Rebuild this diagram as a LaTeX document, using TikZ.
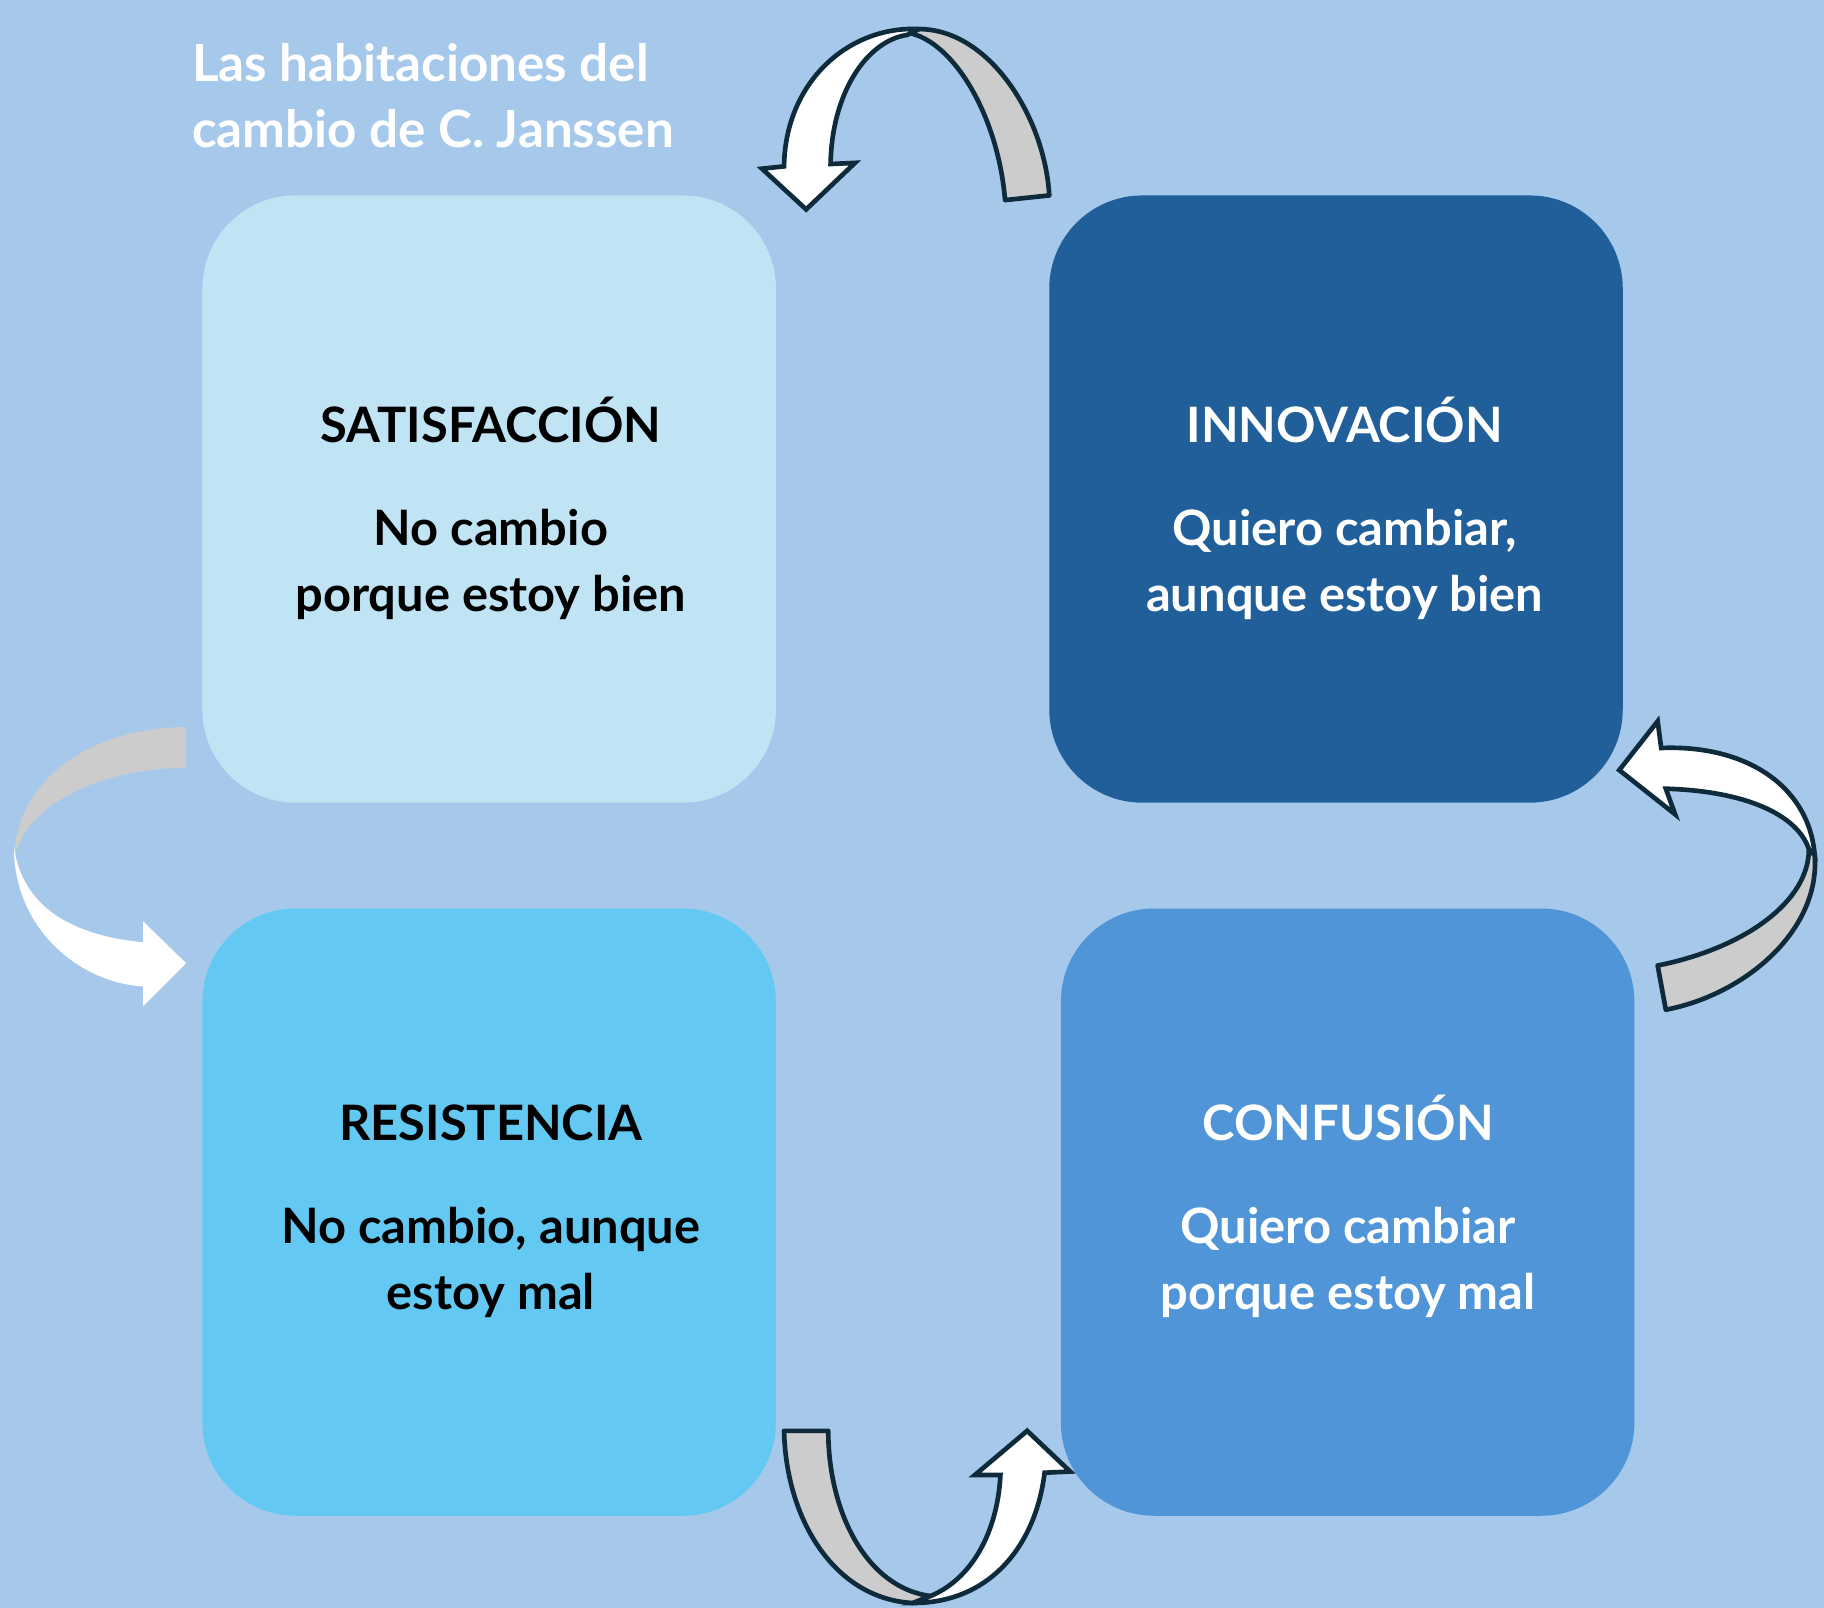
\documentclass[tikz,border=0pt]{standalone}
\usepackage{fontspec}
\setmainfont{Lato}
\definecolor{bg}{HTML}{A6C9EB}
\definecolor{csat}{HTML}{C1E4F5}
\definecolor{cinn}{HTML}{215F9A}
\definecolor{cres}{HTML}{63C9F3}
\definecolor{ccon}{HTML}{4F95D8}
\definecolor{dk}{HTML}{0E2A3B}
\definecolor{gr}{HTML}{CCCCCC}
\begin{document}
\begin{tikzpicture}[x=0.5pt,y=-0.5pt,
  room/.style={rounded corners=40pt,minimum width=246.5pt,minimum height=261pt,inner sep=0pt},
  txt/.style={font=\bfseries\fontsize{21}{28.5}\selectfont,align=center},
  gband/.style={fill=gr,draw=dk,line width=2pt,line join=round},
  wband/.style={fill=white,draw=dk,line width=2pt,line join=miter}]
\fill[bg] (0,0) rectangle (1568,1382);
\useasboundingbox (0,0) rectangle (1568,1382);
\node[room,fill=csat] (sat) at (420.5,429) {};
\node[room,fill=cinn] (inn) at (1148.5,429) {};
\node[room,fill=cres] (res) at (420.5,1042) {};
\node[room,fill=ccon] (con) at (1158.5,1042) {};
\node[txt,anchor=base] (t1) at (422,380) {SATISFACCIÓN};
\node[txt,anchor=base] (t1b) at (422,526) {No cambio\\porque estoy bien};
\node[txt,anchor=base,text=white] (t2) at (1156,380) {INNOVACIÓN};
\node[txt,anchor=base,text=white] (t2b) at (1156,526) {Quiero cambiar,\\aunque estoy bien};
\node[txt,anchor=base] (t3) at (422,980) {RESISTENCIA};
\node[txt,anchor=base] (t3b) at (422,1126) {No cambio, aunque\\estoy mal};
\node[txt,anchor=base,text=white] (t4) at (1159,980) {CONFUSIÓN};
\node[txt,anchor=base,text=white] (t4b) at (1159,1126) {Quiero cambiar\\porque estoy mal};
\node[font=\bfseries\fontsize{22}{28.5}\selectfont,align=left,text=white,anchor=north west] (title) at (158,30) {Las habitaciones del\\cambio de C. Janssen};
% top arrow
\draw[gband] (864,172) .. controls (858,100) and (820,35) .. (780,28) -- (790,25) .. controls (850,25) and (898,100) .. (902,168) -- cycle;
\draw[wband] (780,30) -- (790,25) .. controls (730,22) and (675,70) .. (674,143) -- (655,145) -- (693,180) -- (735,140) -- (714,141) .. controls (715,80) and (745,35) .. (780,30) -- cycle;
% bottom arrow
\draw[gband] (674,1230) -- (712,1230) .. controls (712,1300) and (745,1365) .. (800,1372) -- (785,1378) .. controls (720,1375) and (676,1310) .. (674,1230) -- cycle;
\draw[wband] (800,1372) .. controls (840,1355) and (858,1310) .. (860,1268) -- (838,1268) -- (883,1230) -- (920,1265) -- (898,1266) .. controls (890,1330) and (850,1378) .. (785,1378) -- cycle;
% left arrow
\fill[gr] (160,625) -- (160,660) .. controls (90,660) and (20,690) .. (12,740) .. controls (12,670) and (80,625) .. (160,625) -- cycle;
\fill[white] (12,728) .. controls (12,800) and (70,845) .. (123,848) -- (123,865) -- (160,828) -- (123,792) -- (123,810) .. controls (70,805) and (20,785) .. (12,728) -- cycle;
% right arrow
\draw[gband] (1425,830) .. controls (1500,815) and (1555,775) .. (1555,730) -- (1560,735) .. controls (1565,800) and (1500,855) .. (1432,868) -- cycle;
\draw[wband] (1555,730) .. controls (1545,700) and (1500,680) .. (1432,678) -- (1440,700) -- (1392,662) -- (1425,620) -- (1428,643) .. controls (1500,640) and (1555,675) .. (1560,735) -- cycle;
\end{tikzpicture}
\end{document}
